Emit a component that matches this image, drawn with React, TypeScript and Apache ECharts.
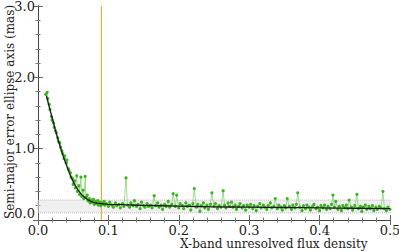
import React, { useEffect, useRef } from "react";
import * as echarts from "echarts";

const dataX: number[] = [
  0.011, 0.013, 0.014, 0.016, 0.017, 0.019, 0.020, 0.022, 0.023, 0.025, 0.026, 0.028, 0.029, 0.031, 0.032, 0.034,
  0.035, 0.037, 0.038, 0.040, 0.041, 0.043, 0.044, 0.046, 0.047, 0.049, 0.050, 0.052, 0.053, 0.055, 0.056, 0.058,
  0.059, 0.061, 0.062, 0.064, 0.065, 0.067, 0.068, 0.070, 0.071, 0.073, 0.074, 0.076, 0.077, 0.079, 0.080, 0.082,
  0.083, 0.085, 0.086, 0.088, 0.089, 0.091, 0.092, 0.094, 0.095,
  0.097, 0.100, 0.102, 0.105, 0.107, 0.110, 0.112, 0.115, 0.117, 0.120, 0.122, 0.125, 0.127, 0.130, 0.132, 0.135,
  0.137, 0.140, 0.142, 0.145, 0.147, 0.150, 0.152, 0.155, 0.157, 0.160, 0.162, 0.165, 0.167, 0.170, 0.172, 0.175,
  0.177, 0.180, 0.182, 0.185, 0.187, 0.190, 0.192, 0.195, 0.197, 0.200, 0.202, 0.205, 0.207, 0.210, 0.212, 0.215,
  0.217, 0.220, 0.222, 0.225, 0.227, 0.230, 0.232, 0.235, 0.237, 0.240, 0.242, 0.245, 0.247, 0.250, 0.252, 0.255,
  0.257, 0.260, 0.263, 0.265, 0.267, 0.270, 0.272, 0.275, 0.277, 0.280, 0.282, 0.285, 0.287, 0.290, 0.292, 0.295,
  0.297, 0.300, 0.302, 0.305, 0.307, 0.310, 0.312, 0.315, 0.317, 0.320, 0.322, 0.325, 0.327, 0.330, 0.332, 0.335,
  0.337, 0.340, 0.342, 0.345, 0.347, 0.350, 0.352, 0.354, 0.357, 0.360, 0.362, 0.365, 0.367, 0.369, 0.372, 0.375,
  0.377, 0.380, 0.382, 0.385, 0.387, 0.390, 0.392, 0.395, 0.397, 0.400, 0.402, 0.405, 0.407, 0.410, 0.412, 0.415,
  0.417, 0.419, 0.421, 0.423, 0.426, 0.428, 0.431, 0.433, 0.436, 0.438, 0.440, 0.442, 0.445, 0.447, 0.450, 0.453,
  0.455, 0.458, 0.460, 0.462, 0.465, 0.467, 0.470, 0.472, 0.475, 0.477, 0.480, 0.482, 0.485, 0.487, 0.490, 0.492,
  0.495, 0.497, 0.500,
];

const dataY: number[] = [
  1.76, 1.79, 1.70, 1.62, 1.55, 1.45, 1.40, 1.36, 1.30, 1.25, 1.22, 1.15, 1.10, 1.08, 1.02, 0.97,
  0.93, 0.86, 0.90, 0.80, 0.84, 0.72, 0.70, 0.66, 0.60, 0.58, 0.50, 0.55, 0.45, 0.62, 0.40, 0.48,
  0.36, 0.60, 0.33, 0.42, 0.30, 0.61, 0.32, 0.35, 0.27, 0.30, 0.24, 0.28, 0.25, 0.29, 0.22, 0.26,
  0.23, 0.27, 0.21, 0.25, 0.20, 0.24, 0.22, 0.26, 0.21,
  0.23, 0.19, 0.25, 0.21, 0.18, 0.24, 0.20, 0.22, 0.17, 0.23, 0.19, 0.59, 0.21, 0.18, 0.24, 0.20,
  0.27, 0.19, 0.22, 0.16, 0.25, 0.20, 0.18, 0.23, 0.19, 0.21, 0.17, 0.34, 0.20, 0.24, 0.18, 0.21,
  0.15, 0.22, 0.19, 0.26, 0.18, 0.22, 0.37, 0.19, 0.35, 0.17, 0.23, 0.20, 0.16, 0.24, 0.19, 0.21,
  0.14, 0.23, 0.44, 0.18, 0.22, 0.12, 0.20, 0.24, 0.17, 0.21, 0.15, 0.22, 0.38, 0.19, 0.23, 0.16,
  0.20, 0.18, 0.41, 0.21, 0.17, 0.24, 0.19, 0.25, 0.18, 0.21, 0.15, 0.19, 0.23, 0.17, 0.20, 0.14,
  0.21, 0.18, 0.22, 0.16, 0.20, 0.13, 0.19, 0.23, 0.17, 0.21, 0.18, 0.15, 0.20, 0.24, 0.17, 0.19,
  0.30, 0.16, 0.21, 0.18, 0.14, 0.20, 0.17, 0.30, 0.19, 0.15, 0.21, 0.17, 0.22, 0.38, 0.18, 0.13,
  0.20, 0.16, 0.21, 0.18, 0.14, 0.19, 0.22, 0.16, 0.18, 0.13, 0.20, 0.17, 0.21, 0.15, 0.19, 0.16,
  0.22, 0.35, 0.18, 0.26, 0.15, 0.19, 0.13, 0.20, 0.17, 0.21, 0.16, 0.28, 0.18, 0.14, 0.20, 0.36,
  0.16, 0.19, 0.12, 0.18, 0.21, 0.15, 0.19, 0.16, 0.20, 0.13, 0.18, 0.15, 0.19, 0.17, 0.40, 0.16,
  0.13, 0.18, 0.15,
];

const fitX: number[] = [0.012, 0.015, 0.02, 0.025, 0.03, 0.035, 0.04, 0.045, 0.05, 0.055, 0.06, 0.065, 0.07, 0.075, 0.08, 0.09, 0.1, 0.12, 0.15, 0.2, 0.25, 0.3, 0.35, 0.4, 0.45, 0.5];
const fitY: number[] = [1.74, 1.62, 1.44, 1.25, 1.08, 0.92, 0.78, 0.65, 0.54, 0.45, 0.38, 0.33, 0.29, 0.26, 0.245, 0.23, 0.22, 0.215, 0.205, 0.195, 0.185, 0.18, 0.175, 0.17, 0.165, 0.16];

const bandLow = 0.1;
const bandHigh = 0.28;
const cutX = 0.09;
const yMin = 0;
const yMax = 3;

const xTicks = ["0.0", "0.1", "0.2", "0.3", "0.4", "0.5"];
const yTicks = ["0.0", "1.0", "2.0", "3.0"];

const FONT = "DejaVu Serif";

export default function App() {
  const ref = useRef<HTMLDivElement>(null);
  useEffect(() => {
    if (!ref.current) return;
    const chart = echarts.init(ref.current, undefined, { renderer: "svg" });
    const axisCommon = {
      axisLine: { show: true, lineStyle: { color: "#444", width: 1 } },
      axisTick: { show: true, inside: true, length: 5, lineStyle: { color: "#666" } },
      minorTick: { show: true, splitNumber: 5, length: 2.5, lineStyle: { color: "#777" } },
      splitLine: { show: false },
    };
    chart.setOption({
      animation: false,
      backgroundColor: "#fff",
      grid: { left: 38, right: 9, top: 6, bottom: 32, outerBoundsMode: "none", containLabel: false },
      xAxis: [
        {
          type: "value", min: 0, max: 0.5, interval: 0.1, position: "bottom",
          ...axisCommon,
          axisLabel: {
            margin: 4, color: "#222", fontFamily: FONT, fontSize: 13,
            formatter: (v: number) => xTicks[Math.round(v * 10)] ?? "",
          },
        },
        {
          type: "value", min: 0, max: 0.5, interval: 0.1, position: "top",
          ...axisCommon, axisLabel: { show: false },
        },
      ],
      yAxis: [
        {
          type: "value", min: yMin, max: yMax, interval: 1, position: "left",
          ...axisCommon,
          axisLabel: {
            margin: 3, color: "#222", fontFamily: FONT, fontSize: 13,
            verticalAlignMinLabel: "bottom",
            formatter: (v: number) => yTicks[Math.round(v)] ?? "",
          },
        },
        {
          type: "value", min: yMin, max: yMax, interval: 1, position: "right",
          ...axisCommon, axisLabel: { show: false },
        },
      ],
      graphic: [
        {
          type: "text", left: 180, top: 238,
          style: { text: "X-band unresolved flux density", fill: "#222", font: `12px '${FONT}'` },
        },
        {
          type: "text", x: 10, y: 112, rotation: Math.PI / 2,
          style: {
            text: "Semi-major error ellipse axis (mas)", fill: "#222", font: `12px '${FONT}'`,
            align: "center", verticalAlign: "middle",
          },
        },
      ],
      series: [
        {
          type: "line",
          data: [],
          markArea: {
            silent: true,
            itemStyle: { color: "rgba(225,225,225,0.55)", borderColor: "#bbb", borderWidth: 1, borderType: "dotted" },
            data: [[{ yAxis: bandLow }, { yAxis: bandHigh }]],
          },
        },
        {
          type: "line",
          data: [[cutX, yMin], [cutX, yMax]],
          symbol: "none",
          color: "#e0b040",
          lineStyle: { color: "#e0b040", width: 1.2, opacity: 1 },
          emphasis: { disabled: true },
          z: 2,
        },
        {
          type: "line",
          data: dataX.map((x, i) => [x, dataY[i]]),
          symbol: "circle",
          symbolSize: 3.2,
          showSymbol: true,
          lineStyle: { color: "rgba(120,205,100,0.7)", width: 1 },
          itemStyle: { color: "#3cb521", borderWidth: 0 },
          z: 3,
        },
        {
          type: "line",
          data: fitX.map((x, i) => [x, fitY[i]]),
          smooth: true,
          symbol: "none",
          lineStyle: { color: "#1a1a1a", width: 1.3 },
          z: 4,
        },
      ],
    });
    return () => chart.dispose();
  }, []);
  return <div ref={ref} style={{ position: "fixed", left: 0, top: 0, width: 399, height: 252 }} />;
}
